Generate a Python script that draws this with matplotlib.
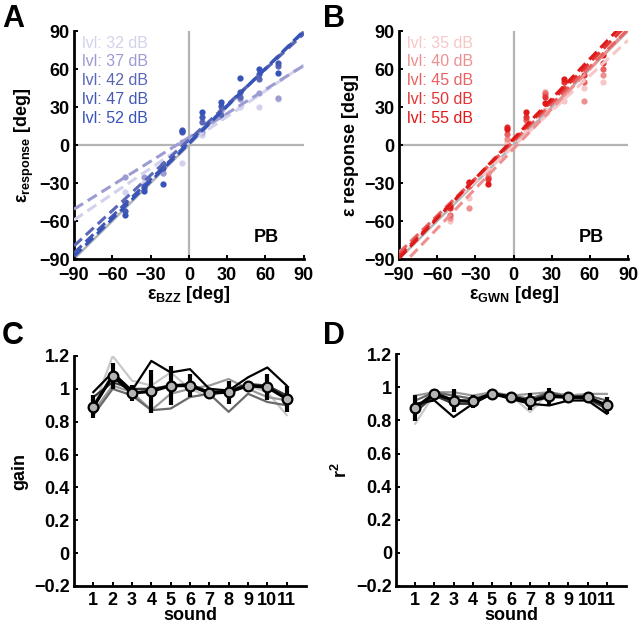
import numpy as np
import matplotlib
matplotlib.use('Agg')
import matplotlib.pyplot as plt

plt.rcParams['font.family'] = ['Liberation Sans', 'DejaVu Sans']
plt.rcParams['font.weight'] = 'bold'
plt.rcParams['mathtext.fontset'] = 'custom'
plt.rcParams['mathtext.rm'] = 'Liberation Sans'
plt.rcParams['mathtext.bf'] = 'Liberation Sans:bold'
plt.rcParams['mathtext.it'] = 'Liberation Sans:italic'

# ---- Daten ----
stim = [-50, -35, -20, -5, 10, 25, 40, 55, 70]

lvl_a = ['32', '37', '42', '47', '52']
col_a = ['#d2d2ec', '#9c9cd2', '#5a66b6', '#4459b2', '#3553b8']
resp_a = [
    [-37, -30, -22, -14, 8, 22, 30, 30, 36],
    [-25, -25, -22, 2, 10, 28, 36, 41, 37],
    [-45, -32, -15, 10, 18, 24, 38, 52, 62],
    [-52, -34, -18, 12, 22, 31, 42, 56, 65],
    [-55, -36, -31, 11, 26, 34, 53, 60, 57],
]
slope_a = [0.68, 0.63, 0.93, 0.97, 0.99]
icpt_a = [2, 6, 4, 2, 1]

lvl_b = ['35', '40', '45', '50', '55']
col_b = ['#f7c6c6', '#ef9090', '#e86262', '#e23434', '#e01818']
resp_b = [
    [-60, -42, -20, 2, 10, 28, 35, 45, 50],
    [-58, -50, -22, 5, 15, 42, 40, 35, 55],
    [-55, -32, -25, 9, 20, 40, 45, 50, 60],
    [-50, -30, -27, 14, 22, 38, 50, 55, 65],
    [-48, -29, -31, 13, 26, 33, 52, 61, 71],
]
slope_b = [0.93, 1.05, 0.98, 1.02, 1.05]
icpt_b = [-1, -3, 3, 4, 5]

sounds = list(range(1, 12))
grau = ['#c8c8c8', '#9a9a9a', '#6a6a6a', '#383838', '#000000']

gain_lvl = [
    [0.88, 1.20, 1.05, 1.02, 1.10, 1.00, 0.95, 1.00, 1.02, 0.98, 0.84],
    [0.86, 1.02, 0.98, 0.87, 0.97, 1.00, 1.02, 1.06, 1.00, 0.95, 0.93],
    [0.84, 1.00, 0.96, 0.87, 0.88, 0.95, 0.97, 0.86, 0.97, 0.92, 0.90],
    [0.95, 1.04, 1.00, 1.00, 1.02, 1.03, 0.98, 0.99, 1.03, 1.02, 0.96],
    [0.98, 1.10, 0.99, 1.17, 1.10, 1.12, 1.00, 0.99, 1.07, 1.13, 1.02],
]
gain_mean = [0.89, 1.08, 0.975, 0.985, 1.02, 1.02, 0.975, 0.98, 1.02, 1.01, 0.94]
gain_err = [0.07, 0.08, 0.05, 0.13, 0.12, 0.07, 0.03, 0.07, 0.02, 0.08, 0.08]

r2_lvl = [
    [0.78, 0.96, 0.95, 0.93, 0.97, 0.95, 0.85, 0.97, 0.95, 0.95, 0.88],
    [0.95, 0.97, 0.97, 0.95, 0.97, 0.95, 0.96, 0.97, 0.95, 0.96, 0.96],
    [0.92, 0.97, 0.95, 0.93, 0.96, 0.95, 0.93, 0.97, 0.94, 0.95, 0.92],
    [0.85, 0.95, 0.90, 0.90, 0.96, 0.94, 0.92, 0.96, 0.94, 0.93, 0.87],
    [0.90, 0.92, 0.82, 0.90, 0.96, 0.93, 0.90, 0.89, 0.92, 0.92, 0.84],
]
r2_mean = [0.876, 0.962, 0.92, 0.915, 0.962, 0.94, 0.915, 0.945, 0.94, 0.94, 0.89]
r2_err = [0.08, 0.02, 0.07, 0.04, 0.01, 0.01, 0.05, 0.05, 0.01, 0.03, 0.05]

fig = plt.figure(figsize=(6.4, 6.25), dpi=100)


def style(ax, xpad=4):
    for s in ['top', 'right']:
        ax.spines[s].set_visible(False)
    for s in ['left', 'bottom']:
        ax.spines[s].set_linewidth(2)
    ax.tick_params(direction='in', length=3, width=1.4, labelsize=13, pad=3)
    ax.tick_params(axis='x', pad=xpad)
    for t in ax.get_xticklabels() + ax.get_yticklabels():
        t.set_fontweight('bold')


def streu(ax, resp, slope, icpt, cols, lvls, xl, yl):
    xx = np.array([-90, 90])
    ax.plot([0, 0], [-90, 90], color='#b4b4b4', lw=1.6, zorder=1)
    ax.plot([-90, 90], [0, 0], color='#b4b4b4', lw=1.6, zorder=1)
    ax.plot(xx, xx, color='#b4b4b4', lw=1.8, zorder=1)
    for i in range(len(lvls)):
        ax.plot(stim, resp[i], 'o', color=cols[i], ms=4.5, mec='none', zorder=2)
    for i in range(len(lvls)):
        ax.plot(xx, slope[i] * xx + icpt[i], '--', color=cols[i], lw=2.2,
                dashes=(3.5, 1.8), zorder=3)
        ax.text(-84, 80.5 - i * 14.8, 'lvl: %s dB' % lvls[i], color=cols[i],
                fontsize=11.5, fontweight='normal', va='center', ha='left')
    ax.text(61, -73, 'PB', fontsize=13, fontweight='bold', ha='center', va='center')
    ax.set_xlim(-90, 90)
    ax.set_ylim(-90, 90)
    ax.set_xticks([-90, -60, -30, 0, 30, 60, 90])
    ax.set_yticks([-90, -60, -30, 0, 30, 60, 90])
    ax.set_xlabel(xl, fontsize=13, fontweight='bold', labelpad=0)
    ax.set_ylabel(yl, fontsize=13, fontweight='bold', labelpad=2)
    style(ax, xpad=6)


def verlauf(ax, lvl, mean, err, yl):
    for i in range(len(lvl)):
        ax.plot(sounds, lvl[i], color=grau[i], lw=1.6, zorder=2)
    ax.errorbar(sounds, mean, yerr=err, color='k', lw=2.4, elinewidth=3,
                capsize=0, marker='o', ms=7, mfc='#b4b4b4', mec='k', mew=1.6,
                zorder=3)
    ax.set_xlim(0, 12)
    ax.set_ylim(-0.2, 1.2)
    ax.set_xticks(sounds)
    ax.set_yticks([-0.2, 0, 0.2, 0.4, 0.6, 0.8, 1, 1.2])
    ax.set_yticklabels(['\u22120.2', '0', '0.2', '0.4', '0.6', '0.8', '1', '1.2'])
    ax.set_xlabel('sound', fontsize=13, fontweight='bold', labelpad=-1)
    ax.set_ylabel(yl, fontsize=13, fontweight='bold', labelpad=4)
    style(ax)


axA = fig.add_axes([0.1156, 0.5856, 0.359, 0.3648])
streu(axA, resp_a, slope_a, icpt_a, col_a, lvl_a,
      r'$\mathrm{\varepsilon}_{\mathbf{BZZ}}$ [deg]',
      r'$\mathrm{\varepsilon}_{\mathbf{response}}$ [deg]')

axB = fig.add_axes([0.6234, 0.5856, 0.358, 0.3648])
streu(axB, resp_b, slope_b, icpt_b, col_b, lvl_b,
      r'$\mathrm{\varepsilon}_{\mathbf{GWN}}$ [deg]',
      r'$\mathrm{\varepsilon}$ response [deg]')

axC = fig.add_axes([0.1156, 0.0624, 0.3625, 0.368])
verlauf(axC, gain_lvl, gain_mean, gain_err, 'gain')

axD = fig.add_axes([0.619, 0.0624, 0.359, 0.371])
verlauf(axD, r2_lvl, r2_mean, r2_err, r'r$\mathbf{^2}$')

for lab, x, y in [('A', 0.003, 0.994), ('B', 0.505, 0.994),
                  ('C', 0.003, 0.487), ('D', 0.505, 0.487)]:
    fig.text(x, y, lab, fontsize=22, fontweight='bold', ha='left', va='top')

fig.savefig('out.png', dpi=100)
